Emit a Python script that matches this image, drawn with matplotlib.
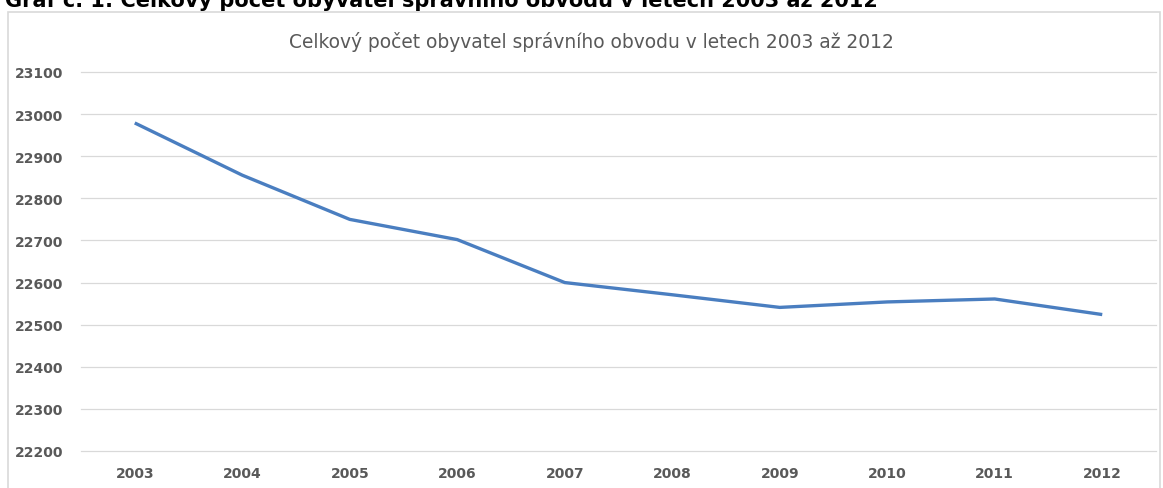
import matplotlib.pyplot as plt
from matplotlib.patches import Rectangle

years = ["2003", "2004", "2005", "2006", "2007", "2008", "2009", "2010", "2011", "2012"]
population = [22979, 22855, 22750, 22702, 22600, 22571, 22541, 22554, 22561, 22524]
y_ticks = [22200, 22300, 22400, 22500, 22600, 22700, 22800, 22900, 23000, 23100]

W, H = 1163, 489
fig = plt.figure(figsize=(W / 100, H / 100), dpi=100)
ax = fig.add_axes([81 / W, 1 - 452 / H, (1156 - 81) / W, (452 - 73) / H])

x = list(range(len(years)))
ax.plot(x, population, color="#4A7EC0", linewidth=2.4, solid_capstyle="butt")

ax.set_xlim(-0.5, len(years) - 0.5)
ax.set_ylim(y_ticks[0], y_ticks[-1])
ax.set_xticks(x)
ax.set_xticklabels(years)
ax.set_yticks(y_ticks)
ax.grid(axis="y", color="#D9D9D9", linewidth=0.9)
for g in ax.get_ygridlines():
    g.set_clip_on(False)
ax.set_axisbelow(True)
for s in ax.spines.values():
    s.set_visible(False)
ax.tick_params(axis="both", length=0, colors="#595959", labelsize=10)
ax.tick_params(axis="x", pad=11)
ax.tick_params(axis="y", pad=13)
for lab in ax.get_xticklabels() + ax.get_yticklabels():
    lab.set_fontweight("bold")

# chart frame (bottom edge is cut off in the source)
fig.patches.append(Rectangle((8 / W, -0.1), (1160 - 8) / W, 1.1 - 12.5 / H,
                             transform=fig.transFigure, fill=False,
                             edgecolor="#D9D9D9", linewidth=1.2))

fig.text(591 / W, 1 - 42 / H, "Celkový počet obyvatel správního obvodu v letech 2003 až 2012",
         ha="center", va="center", fontsize=13.4, color="#595959")

# caption above chart, clipped by the top of the image as in the source
fig.text(5 / W, 1 - 7 / H, "Graf č. 1: Celkový počet obyvatel správního obvodu v letech 2003 až 2012",
         ha="left", va="baseline", fontsize=15, fontweight="bold", color="black")

fig.savefig("out.png", dpi=100)
